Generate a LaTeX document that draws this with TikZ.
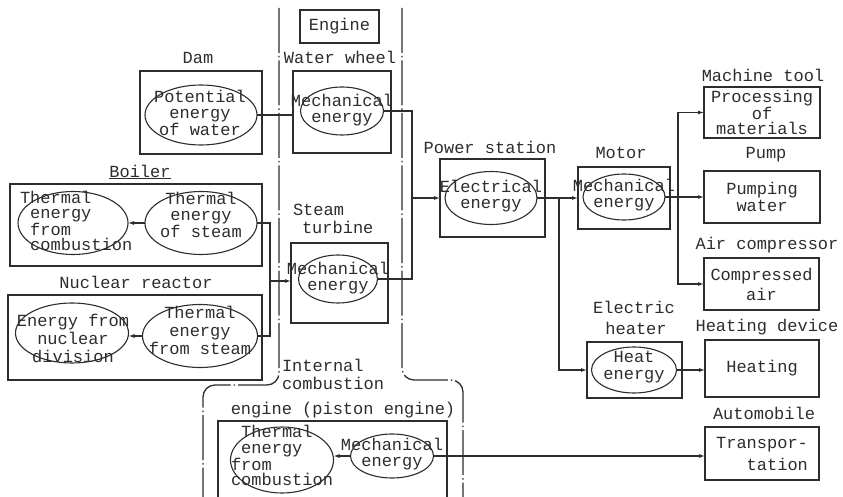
\documentclass[tikz,border=0pt]{standalone}
\usepackage{fontspec}
\setmainfont{Liberation Mono}
\usetikzlibrary{shapes.geometric,arrows.meta}
\definecolor{ink}{RGB}{45,45,45}
\begin{document}
\begin{tikzpicture}[x=1pt,y=-1pt,
  every node/.style={font=\fontsize{17}{15.5}\selectfont, text=ink, inner sep=0pt, outer sep=0pt},
  boxn/.style={draw=ink, line width=1.3pt, rectangle},
  elln/.style={draw=ink, line width=1.1pt, ellipse},
  txt/.style={align=center},
  conn/.style={draw=ink, line width=1.1pt},
  arr/.style={conn, -{Latex[length=6pt,width=4pt]}},
  framel/.style={draw=ink, line width=1.3pt, rounded corners=12pt,
     dash pattern=on 45pt off 3pt on 1.5pt off 3pt}
]
\useasboundingbox[fill=white] (0,0) rectangle (843,497);

% engine frame
\draw[framel] (279,8) -- (279,385) -- (203,385) -- (203,520);
\draw[framel] (402,8) -- (402,380) -- (463,380) -- (463,520);

% boxes
\node[boxn, minimum width=79pt, minimum height=33pt] (eng) at (339.5,26.5) {Engine};
\node[boxn, minimum width=122pt, minimum height=83pt] (dam) at (201,112.5) {};
\node[boxn, minimum width=98pt, minimum height=82pt] (ww) at (342,112) {};
\node[boxn, minimum width=97pt, minimum height=80pt] (st) at (339.5,283) {};
\node[boxn, minimum width=252pt, minimum height=82pt] (boil) at (136,225) {};
\node[boxn, minimum width=254pt, minimum height=85pt] (nuc) at (135,337.5) {};
\node[boxn, minimum width=229pt, minimum height=98pt] (icb) at (332.5,470) {};
\node[boxn, minimum width=105pt, minimum height=78pt] (ps) at (492.5,198) {};
\node[boxn, minimum width=92pt, minimum height=62pt] (mo) at (624,198) {};
\node[boxn, minimum width=116pt, minimum height=51pt, txt, font=\fontsize{17}{15.5}\selectfont] (pr) at (762,112.5) {Processing\\of\\materials};
\node[boxn, minimum width=116pt, minimum height=52pt, txt, font=\fontsize{17}{17}\selectfont] (pw) at (762,197) {Pumping\\water};
\node[boxn, minimum width=115pt, minimum height=52pt, txt, font=\fontsize{17}{20}\selectfont] (ca) at (761.5,284) {Compressed\\air};
\node[boxn, minimum width=95pt, minimum height=56pt] (ht) at (634.5,370) {};
\node[boxn, minimum width=114pt, minimum height=57pt] (hg) at (762,368.5) {Heating};
\node[boxn, minimum width=114pt, minimum height=53pt, align=right, font=\fontsize{17}{22}\selectfont] (tr) at (762,453.5) {Transpor-\\tation};

% ellipses
\node[elln, minimum width=112pt, minimum height=60pt] (dame) at (201,115) {};
\node[elln, minimum width=83pt, minimum height=48pt] (wwm) at (342,111) {};
\node[elln, minimum width=110pt, minimum height=63pt] (bc) at (73,223) {};
\node[elln, minimum width=112pt, minimum height=63pt] (bs) at (201,223) {};
\node[elln, minimum width=113pt, minimum height=60pt] (nd) at (72,333) {};
\node[elln, minimum width=115pt, minimum height=63pt] (ns) at (200,336) {};
\node[elln, minimum width=79pt, minimum height=48pt] (stm) at (338,279) {};
\node[elln, minimum width=103pt, minimum height=66pt] (ict) at (282,460) {};
\node[elln, minimum width=83pt, minimum height=44pt] (icm) at (392,456) {};
\node[elln, minimum width=92pt, minimum height=53pt] (pe) at (491,198) {};
\node[elln, minimum width=82pt, minimum height=46pt] (me) at (624,197) {};
\node[elln, minimum width=85pt, minimum height=46pt] (he) at (634,370) {};

% ellipse texts
\node[txt] (t1) at (200,113) {Potential\\energy\\of water};
\node[txt] (t2) at (342,110) {Mechanical\\energy};
\node[align=left, anchor=west] (t3) at (20,221) {Thermal\\\phantom{x}energy\\\phantom{x}from\\\phantom{x}combustion};
\node[txt] (t4) at (201,215) {Thermal\\energy\\of steam};
\node[txt, font=\fontsize{17}{18}\selectfont] (t5) at (73,338) {Energy from\\nuclear\\division};
\node[txt, font=\fontsize{17}{18}\selectfont] (t6) at (200,330) {Thermal\\energy\\from steam};
\node[txt] (t7) at (338,278) {Mechanical\\energy};
\node[align=left, anchor=west] (t8) at (231,455.5) {\phantom{x}Thermal\\\phantom{x}energy\\from\\combustion};
\node[txt] (t9) at (392,454) {Mechanical\\energy};
\node[txt, font=\fontsize{17}{16}\selectfont] (t10) at (491,196) {Electrical\\energy};
\node[txt] (t11) at (624,195) {Mechanical\\energy};
\node[txt, font=\fontsize{17}{17}\selectfont] (t12) at (634,367) {Heat\\energy};

% labels
\node (l1) at (340,57) {Water wheel};
\node (l2) at (198,58) {Dam};
\node (l3) at (140,172) {\underline{Boiler}};
\node[anchor=west] (l4) at (293,210) {Steam};
\node[anchor=west] (l5) at (302,227) {turbine};
\node (l6) at (136,282) {Nuclear reactor};
\node[anchor=west] (l7) at (282,365) {Internal};
\node[anchor=west] (l8) at (282,383) {combustion};
\node (l9) at (343,410) {engine (piston engine)};
\node (l10) at (490,147) {Power station};
\node (l11) at (621,153) {Motor};
\node (l12) at (763,75) {Machine tool};
\node (l13) at (766,155) {Pump};
\node (l14) at (767,245) {Air compressor};
\node (l15) at (634,307) {Electric};
\node (l16) at (636,328) {heater};
\node (l17) at (767,327) {Heating device};
\node (l18) at (764,413) {Automobile};

% connectors
\draw[conn] (dame.east) -- (dame.east -| ww.west);
\coordinate (busA) at (412,198);
\draw[conn] (wwm.east) -| (busA);
\draw[conn] (stm.east) -| (busA);
\draw[arr] (busA) -- (ps.west);
\coordinate (busB) at (270,281);
\draw[conn] (bs.east) -| (busB);
\draw[conn] (ns.east) -| (busB);
\draw[arr] (busB) -- (busB -| st.west);
\draw[arr] (bs.west) -- (bc.east);
\draw[arr] (ns.west) -- (ns.west -| nd.east);
\draw[arr] (icm.west) -- (icm.west -| ict.east);
\draw[arr] (icm.east) -- (icm.east -| tr.west);
\draw[arr] (pe.east) -- (pe.east -| mo.west);
\coordinate (busC) at (559,198);
\draw[arr] (busC) |- (ht.west);
\draw[arr] (me.east) -- (me.east -| pw.west);
\coordinate (busD) at (678,197);
\draw[arr] (busD) |- (pr.west);
\draw[arr] (busD) |- (ca.west);
\draw[arr] (he.east) -- (he.east -| hg.west);
\end{tikzpicture}
\end{document}
